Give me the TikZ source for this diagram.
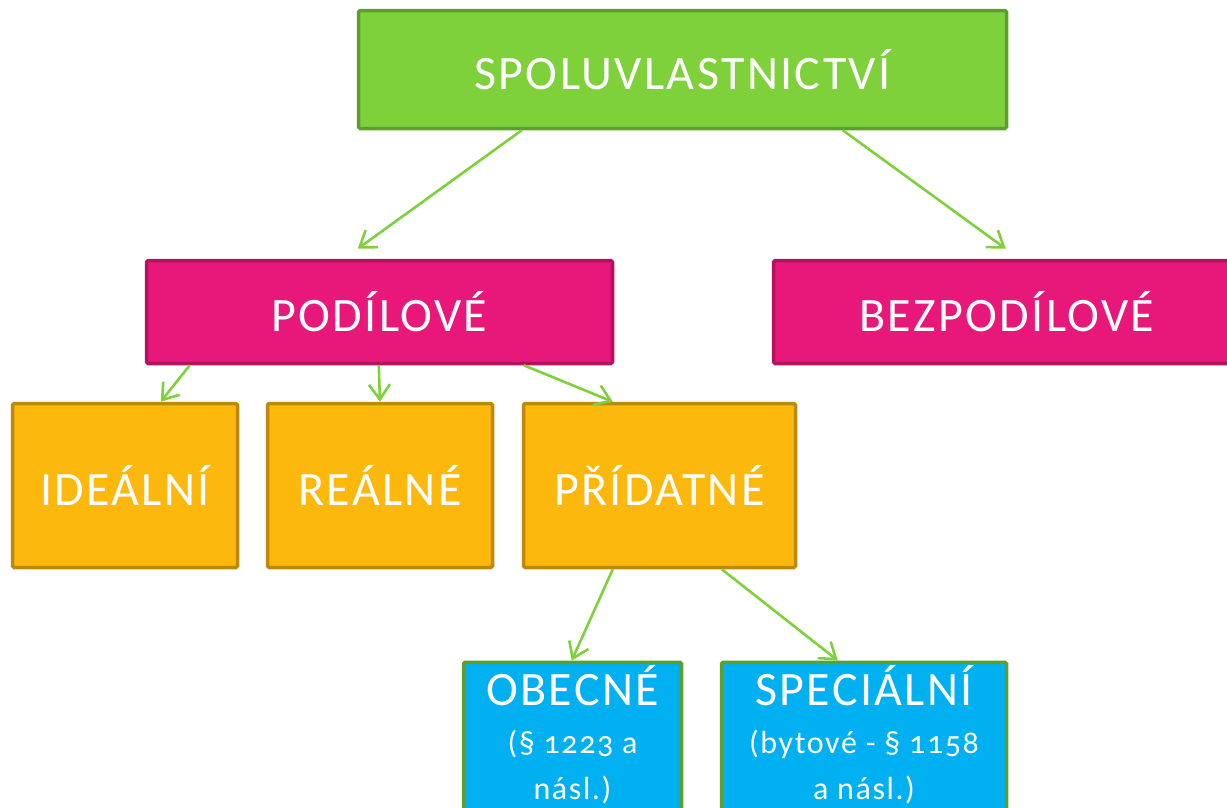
\documentclass[tikz,border=0pt]{standalone}
\usepackage{fontspec}
\setmainfont{Carlito}[Numbers=OldStyle,LetterSpace=5]
\usetikzlibrary{arrows.meta,calc}

\definecolor{kgreen}{HTML}{7FD13B}
\definecolor{kgreendark}{HTML}{5E9E2C}
\definecolor{kpink}{HTML}{E8177A}
\definecolor{kpinkdark}{HTML}{B3125E}
\definecolor{korange}{HTML}{FDB80E}
\definecolor{korangedark}{HTML}{BD890B}
\definecolor{kblue}{HTML}{00B0F0}

\newcommand{\subtext}{\fontsize{32}{38}\selectfont}

\begin{document}
\begin{tikzpicture}
    [
    x=1pt,y=1pt,
    box/.style={rectangle,draw,line width=3.5pt,rounded corners=1.5pt,inner sep=0pt,text=white,align=center,font=\fontsize{48}{54}\selectfont},
    level1/.style={box,fill=kgreen,draw=kgreendark},
    level2/.style={box,fill=kpink,draw=kpinkdark},
    level3/.style={box,fill=korange,draw=korangedark},
    level4/.style={box,fill=kblue,draw=kgreendark,anchor=north,inner ysep=3pt,text depth=44pt},
    arrow/.style={draw=kgreen,line width=2.6pt,-{Straight Barb[length=15pt,width=21pt,line width=2.6pt]}}
    ]
    \useasboundingbox (0,0) rectangle (1227,-807);
    \node (spolu) at (682.5,-69.5) [level1,minimum width=648,minimum height=118] {SPOLUVLASTNICTVÍ};
    \node (podil) at (379.5,-312) [level2,minimum width=466,minimum height=103] {PODÍLOVÉ};
    \node (bezpodil) at (1007,-312) [level2,minimum width=467,minimum height=103] {BEZPODÍLOVÉ};
    \node (ideal) at (125,-485.5) [level3,minimum width=225,minimum height=164] {IDEÁLNÍ};
    \node (real) at (380,-485.5) [level3,minimum width=225,minimum height=164] {REÁLNÉ};
    \node (pridat) at (659.5,-485.5) [level3,minimum width=272,minimum height=164] {PŘÍDATNÉ};
    \node (obecne) at (572.5,-660.5) [level4,minimum width=218] {OBECNÉ\\[-6pt]\subtext (§ 1223 a\\[-8pt]\subtext násl.)};
    \node (special) at (864,-660.5) [level4,minimum width=285] {SPECIÁLNÍ\\[-6pt]\subtext (bytové - § 1158\\[-8pt]\subtext a násl.)};
    \draw [arrow] ($(spolu.south west)+(165,0)$) to ($(podil.north west)+(213,10)$);
    \draw [arrow] ($(spolu.south west)+(486,0)$) to ($(bezpodil.north west)+(234,10)$);
    \draw [arrow] ($(podil.south west)+(45,0)$) to ($(ideal.north west)+(150,0)$);
    \draw [arrow] ($(podil.south west)+(234,0)$) to (real.north);
    \draw [arrow] ($(podil.south west)+(379,0)$) to ($(pridat.north west)+(91,0)$);
    \draw [arrow] ($(pridat.south west)+(91,0)$) to ($(obecne.north west)+(110,0)$);
    \draw [arrow] ($(pridat.south west)+(200,0)$) to ($(special.north west)+(118,0)$);
  \end{tikzpicture}
\end{document}
